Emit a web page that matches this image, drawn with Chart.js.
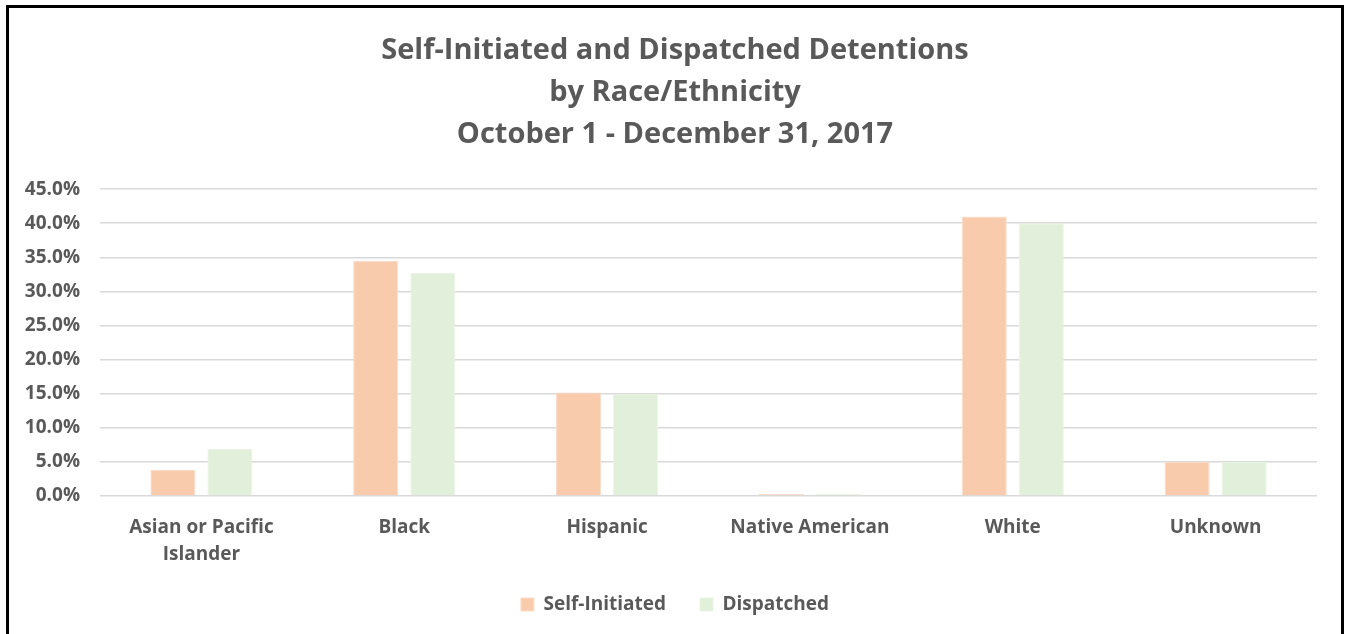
<!DOCTYPE html>
<html>
<head>
<meta charset="utf-8">
<script src="https://cdn.jsdelivr.net/npm/chart.js@4"></script>
<style>
  html, body { margin: 0; padding: 0; background: #fff; overflow: hidden; }
  #frame { position: absolute; left: 6px; top: 5px; width: 1332px; height: 660px; border: 3px solid #000; background: #fff; }
  #wrap { position: absolute; left: 0; top: 0; width: 1332px; height: 626px; }
</style>
</head>
<body>
<div id="frame"><div id="wrap"><canvas id="c"></canvas></div></div>
<script>
const categories = [['Asian or Pacific', 'Islander'], 'Black', 'Hispanic', 'Native American', 'White', 'Unknown'];
const selfInitiated = [3.8, 34.5, 15.2, 0.3, 41.0, 5.0];
const dispatched = [6.9, 32.7, 15.0, 0.3, 40.0, 5.0];
const titleLines = ['Self-Initiated and Dispatched Detentions', 'by Race/Ethnicity', 'October 1 - December 31, 2017'];
const yTicks = [0, 5, 10, 15, 20, 25, 30, 35, 40, 45];

const FONT = '"Open Sans", Calibri, Carlito, sans-serif';
const GREY = '#595959';

new Chart(document.getElementById('c'), {
  type: 'bar',
  data: {
    labels: categories,
    datasets: [
      { label: 'Self-Initiated', data: selfInitiated, backgroundColor: '#F8CBAD', borderColor: '#FBDCC8', borderWidth: 1,
        categoryPercentage: 0.5625, barPercentage: 0.79 },
      { label: 'Dispatched', data: dispatched, backgroundColor: '#E2EFDA', borderColor: '#EAF4E4', borderWidth: 1,
        categoryPercentage: 0.5625, barPercentage: 0.79 }
    ]
  },
  options: {
    responsive: true,
    maintainAspectRatio: false,
    animation: false,
    layout: { padding: { left: 0, right: 0, top: 0, bottom: 10 } },
    plugins: {
      title: {
        display: true,
        text: titleLines,
        color: GREY,
        font: { family: FONT, size: 29, weight: 'bold', lineHeight: 1.45 },
        padding: { top: 22, bottom: 33 }
      },
      legend: {
        position: 'bottom',
        labels: {
          color: GREY,
          font: { family: FONT, size: 19, weight: 'bold' },
          boxWidth: 13, boxHeight: 13, padding: 34
        }
      },
      tooltip: { enabled: false }
    },
    scales: {
      x: {
        grid: { display: false },
        border: { display: false },
        afterFit: (s) => { s.height -= 17; },
        ticks: { color: GREY, font: { family: FONT, size: 19, weight: 'bold', lineHeight: 1.42 }, padding: 10, maxRotation: 0 }
      },
      y: {
        min: 0, max: 45,
        afterBuildTicks: (s) => { s.ticks = yTicks.map(v => ({ value: v })); },
        afterFit: (s) => { s.width = 91; },
        grid: { color: '#D9D9D9', lineWidth: 1.5, drawTicks: false },
        border: { display: false },
        ticks: { color: GREY, font: { family: FONT, size: 19, weight: 'bold' }, padding: 20,
          callback: (v) => Number(v).toFixed(1) + '%' }
      },
      yRightGap: {
        position: 'right',
        min: 0, max: 45,
        grid: { display: false },
        border: { display: false },
        ticks: { display: false },
        afterFit: (s) => { s.width = 24; }
      }
    }
  }
});
</script>
</body>
</html>
